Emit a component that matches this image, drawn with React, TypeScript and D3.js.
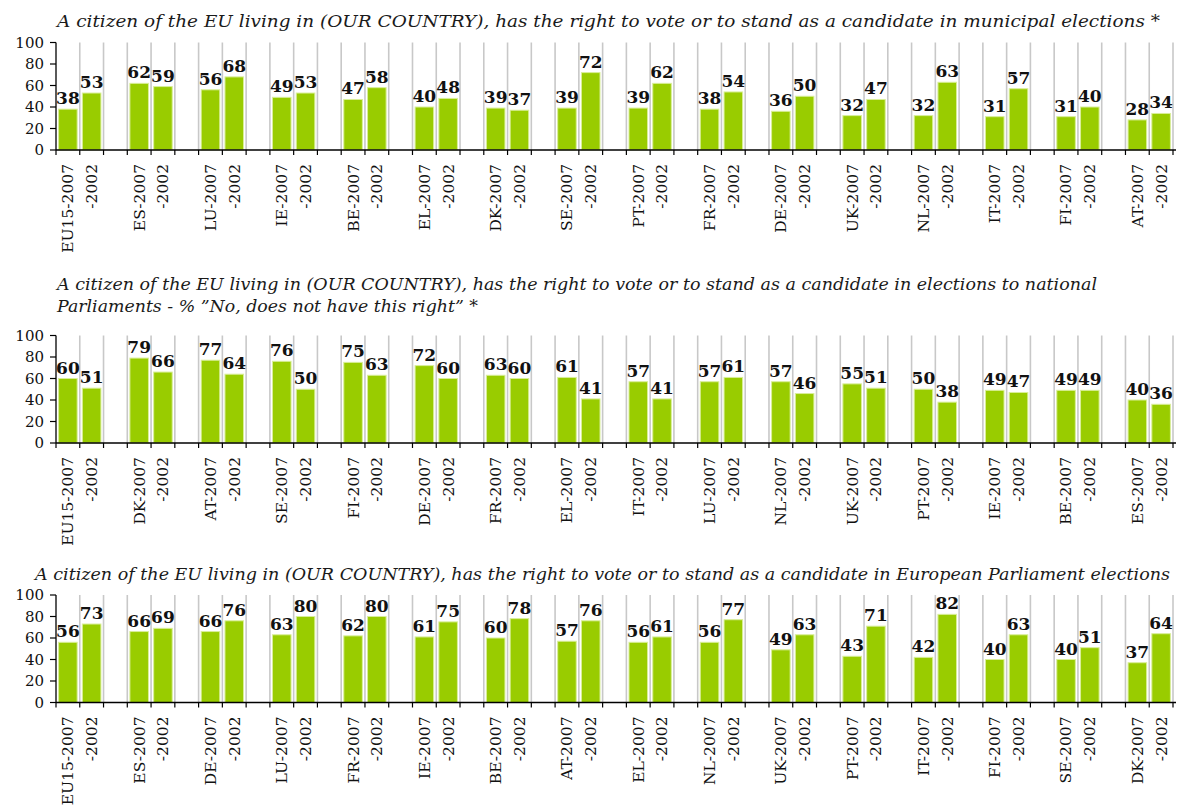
import React from "react";
import * as d3 from "d3";

const p1Countries = ["EU15", "ES", "LU", "IE", "BE", "EL", "DK", "SE", "PT", "FR", "DE", "UK", "NL", "IT", "FI", "AT"];
const p1v2007 = [38, 62, 56, 49, 47, 40, 39, 39, 39, 38, 36, 32, 32, 31, 31, 28];
const p1v2002 = [53, 59, 68, 53, 58, 48, 37, 72, 62, 54, 50, 47, 63, 57, 40, 34];

const p2Countries = ["EU15", "DK", "AT", "SE", "FI", "DE", "FR", "EL", "IT", "LU", "NL", "UK", "PT", "IE", "BE", "ES"];
const p2v2007 = [60, 79, 77, 76, 75, 72, 63, 61, 57, 57, 57, 55, 50, 49, 49, 40];
const p2v2002 = [51, 66, 64, 50, 63, 60, 60, 41, 41, 61, 46, 51, 38, 47, 49, 36];

const p3Countries = ["EU15", "ES", "DE", "LU", "FR", "IE", "BE", "AT", "EL", "NL", "UK", "PT", "IT", "FI", "SE", "DK"];
const p3v2007 = [56, 66, 66, 63, 62, 61, 60, 57, 56, 56, 49, 43, 42, 40, 40, 37];
const p3v2002 = [73, 69, 76, 80, 80, 75, 78, 76, 61, 77, 63, 71, 82, 63, 51, 64];

const yTicks = [0, 20, 40, 60, 80, 100];

const title1 = ["A citizen of the EU living in (OUR COUNTRY), has the right to vote or to stand as a candidate in municipal elections *"];
const title2 = [
  "A citizen of the EU living in (OUR COUNTRY), has the right to vote or to stand as a candidate in elections to national",
  "Parliaments - % \u201DNo, does not have this right\u201D *",
];
const title3 = ["A citizen of the EU living in (OUR COUNTRY), has the right to vote or to stand as a candidate in European Parliament elections"];

const FONT = "'DejaVu Serif', Georgia, serif";
const BAR = "#99cc00";

type PanelProps = {
  countries: string[];
  v2007: number[];
  v2002: number[];
  title: string[];
  titleX: number;
  titleY: number;
  titleLens: number[];
  yTop: number;
  yBottom: number;
};

function Panel({ countries, v2007, v2002, title, titleX, titleY, titleLens, yTop, yBottom }: PanelProps) {
  const nSlots = countries.length * 3 - 1;
  const slots = d3.range(nSlots);
  const x = d3.scaleBand<number>().domain(slots).range([56, 1173]).paddingInner(0).paddingOuter(0);
  const y = d3.scaleLinear().domain([0, 100]).range([yBottom, yTop]);
  const bw = x.bandwidth();
  const pad = 2.6;

  const items: { slot: number; value: number; label: string }[] = [];
  countries.forEach((c, i) => {
    items.push({ slot: i * 3, value: v2007[i], label: `${c}-2007` });
    items.push({ slot: i * 3 + 1, value: v2002[i], label: "-2002" });
  });

  const boundaries = d3.range(nSlots + 1).map((i) => (i < nSlots ? (x(i) as number) : (x(nSlots - 1) as number) + bw));

  return (
    <g>
      {title.map((t, i) => (
        <text
          key={i}
          x={titleX}
          y={titleY + i * 22}
          fontFamily={FONT}
          fontStyle="italic"
          fontSize={17}
          fill="#1a1a1a"
          textLength={titleLens[i]}
          lengthAdjust="spacingAndGlyphs"
        >
          {t}
        </text>
      ))}
      {boundaries.slice(1).map((bx, i) => (
        <line key={"g" + i} x1={bx} x2={bx} y1={y(100)} y2={y(0)} stroke="#c8c8c8" strokeWidth={1.6} />
      ))}
      {items.map((d, i) => (
        <rect
          key={"b" + i}
          x={(x(d.slot) as number) + pad}
          y={y(d.value)}
          width={bw - 2 * pad}
          height={y(0) - y(d.value)}
          fill={BAR}
          stroke="#d9ee99"
          strokeWidth={1}
        />
      ))}
      {items.map((d, i) => (
        <text
          key={"v" + i}
          x={(x(d.slot) as number) + bw / 2}
          y={y(d.value) - 5}
          textAnchor="middle"
          fontFamily={FONT}
          fontWeight="bold"
          fontSize={17}
          fill="#111"
        >
          {d.value}
        </text>
      ))}
      <line x1={56} x2={56} y1={y(100)} y2={y(0)} stroke="#000" strokeWidth={1.3} />
      {yTicks.map((t) => (
        <g key={"yt" + t}>
          <line x1={50} x2={56} y1={y(t)} y2={y(t)} stroke="#000" strokeWidth={1.2} />
          <text x={44} y={y(t)} dy="0.35em" textAnchor="end" fontFamily={FONT} fontSize={15} fill="#111">
            {t}
          </text>
        </g>
      ))}
      <line x1={56} x2={1176} y1={y(0)} y2={y(0)} stroke="#000" strokeWidth={1.3} />
      {boundaries.map((bx, i) => (
        <line key={"xt" + i} x1={bx} x2={bx} y1={y(0)} y2={y(0) + 5} stroke="#000" strokeWidth={1.2} />
      ))}
      {items.map((d, i) => {
        const cx = (x(d.slot) as number) + bw / 2;
        const ty = y(0) + 14;
        return (
          <text
            key={"xl" + i}
            transform={`translate(${cx},${ty}) rotate(-90)`}
            textAnchor="end"
            dy="0.35em"
            fontFamily={FONT}
            fontSize={15.5}
            fill="#111"
          >
            {d.label}
          </text>
        );
      })}
    </g>
  );
}

export default function App() {
  return (
    <svg width={1178} height={807} style={{ position: "absolute", left: 0, top: 0, background: "#fff" }}>
      <rect x={0} y={0} width={1178} height={807} fill="#fff" />
      <Panel
        countries={p1Countries}
        v2007={p1v2007}
        v2002={p1v2002}
        title={title1}
        titleX={57}
        titleY={27}
        titleLens={[1103]}
        yTop={42.5}
        yBottom={150}
      />
      <Panel
        countries={p2Countries}
        v2007={p2v2007}
        v2002={p2v2002}
        title={title2}
        titleX={57}
        titleY={290}
        titleLens={[1040, 421]}
        yTop={335.5}
        yBottom={443}
      />
      <Panel
        countries={p3Countries}
        v2007={p3v2007}
        v2002={p3v2002}
        title={title3}
        titleX={35}
        titleY={580}
        titleLens={[1135]}
        yTop={595}
        yBottom={702.5}
      />
    </svg>
  );
}
